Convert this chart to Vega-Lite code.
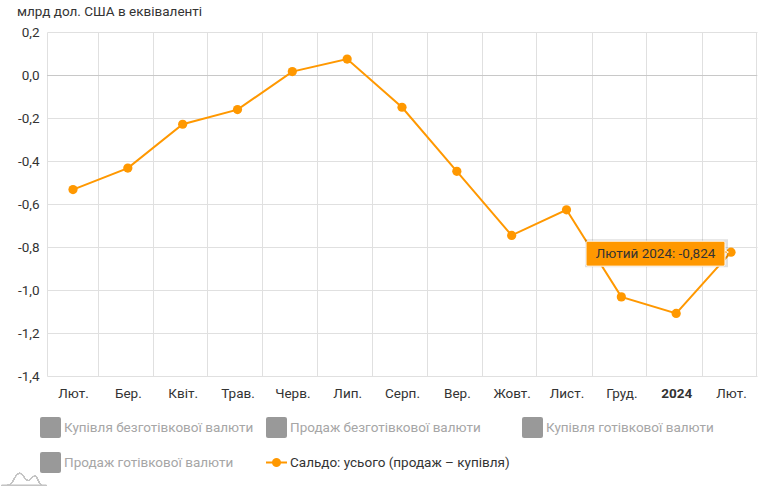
{
"$schema":"https://vega.github.io/schema/vega-lite/v6.json",
"width":710,"height":344,
"autosize":{"type":"none"},
"padding":{"left":47,"top":32,"right":11,"bottom":119},
"background":"white",
"config":{"font":"Roboto","view":{"stroke":null}},
"title":{"text":"млрд дол. США в еквіваленті","anchor":"start","frame":"group","orient":"top","dx":-30,"offset":7,"fontSize":13.5,"fontWeight":"normal","color":"#333333","font":"Roboto"},
"data":{"values":[
{"idx":0,"series":"Сальдо: усього (продаж – купівля)","value":-0.533},
{"idx":1,"series":"Сальдо: усього (продаж – купівля)","value":-0.433},
{"idx":2,"series":"Сальдо: усього (продаж – купівля)","value":-0.229},
{"idx":3,"series":"Сальдо: усього (продаж – купівля)","value":-0.161},
{"idx":4,"series":"Сальдо: усього (продаж – купівля)","value":0.016},
{"idx":5,"series":"Сальдо: усього (продаж – купівля)","value":0.074},
{"idx":6,"series":"Сальдо: усього (продаж – купівля)","value":-0.15},
{"idx":7,"series":"Сальдо: усього (продаж – купівля)","value":-0.448},
{"idx":8,"series":"Сальдо: усього (продаж – купівля)","value":-0.746},
{"idx":9,"series":"Сальдо: усього (продаж – купівля)","value":-0.627},
{"idx":10,"series":"Сальдо: усього (продаж – купівля)","value":-1.032},
{"idx":11,"series":"Сальдо: усього (продаж – купівля)","value":-1.109},
{"idx":12,"series":"Сальдо: усього (продаж – купівля)","value":-0.824}
]},
"resolve":{"axis":{"x":"independent"}},
"layer":[
{"mark":{"type":"rule","color":"#c8c8c8","strokeWidth":1,"yOffset":0.5},
 "encoding":{"y":{"datum":0,"type":"quantitative","scale":{"domain":[-1.4,0.2],"nice":false},
   "axis":{"orient":"left","values":[-1.4,-1.2,-1,-0.8,-0.6,-0.4,-0.2,0,0.2],"grid":true,"gridColor":"#e0e0e0","gridWidth":1,"domain":false,"ticks":false,"title":null,"labelFontSize":13.5,"labelColor":"#333333","labelPadding":8,"labelFont":"Roboto",
   "labelExpr":"replace(replace(format(datum.value,'.1f'),'.',','),'−','-')"}}}},
{"mark":{"type":"line","color":"#ff9800","strokeWidth":2},
 "encoding":{
  "x":{"field":"idx","type":"quantitative","scale":{"domain":[-0.474,12.474],"nice":false,"zero":false},
   "axis":{"orient":"bottom","values":[-0.474,0.456,1.462,2.447,3.45,4.45,5.45,6.45,7.45,8.45,9.456,10.456,11.47,12.462],"grid":true,"gridColor":"#e0e0e0","gridWidth":1,"labels":false,"ticks":false,"domain":false,"title":null}},
  "y":{"field":"value","type":"quantitative"}}},
{"mark":{"type":"point","filled":true,"color":"#ff9800","opacity":1,"size":85,"shape":"circle"},
 "encoding":{
  "x":{"field":"idx","type":"quantitative",
   "axis":{"orient":"bottom","values":[0,1,2,3,4,5,6,7,8,9,10,11,12],"grid":false,"ticks":false,"domain":false,"title":null,"labelFontSize":13.5,"labelColor":"#333333","labelPadding":10,"labelFont":"Roboto","labelOverlap":false,
    "labelFontWeight":{"condition":{"test":"datum.value==11","value":"bold"},"value":"normal"},
    "labelExpr":"['Лют.','Бер.','Квіт.','Трав.','Черв.','Лип.','Серп.','Вер.','Жовт.','Лист.','Груд.','2024','Лют.'][datum.value]"}},
  "y":{"field":"value","type":"quantitative"}}},
{"mark":{"type":"point","filled":true,"opacity":0,"size":10},
 "encoding":{
  "x":{"field":"idx","type":"quantitative","axis":null},
  "y":{"field":"value","type":"quantitative"},
  "color":{"field":"series","type":"nominal",
   "scale":{"domain":["Купівля безготівкової валюти","Продаж безготівкової валюти","Купівля готівкової валюти","Продаж готівкової валюти","Сальдо: усього (продаж – купівля)"],"range":["#999999","#999999","#999999","#999999","#ff9800"]},
   "legend":{"orient":"none","legendX":-7,"legendY":385,"direction":"horizontal","columns":3,"title":null,"symbolSize":441,"symbolOpacity":1,"labelFontSize":13.5,"labelLimit":400,"labelOffset":3,"rowPadding":14,"columnPadding":12,"labelFont":"Roboto","symbolStrokeWidth":0,
    "labelColor":{"expr":"indexof(datum.value,'Сальдо')==0?'#333333':'#a6a6a6'"}}},
  "shape":{"field":"series","type":"nominal",
   "scale":{"domain":["Купівля безготівкової валюти","Продаж безготівкової валюти","Купівля готівкової валюти","Продаж готівкової валюти","Сальдо: усього (продаж – купівля)"],
    "range":["M-0.8,-1 H0.8 Q1,-1 1,-0.8 V0.8 Q1,1 0.8,1 H-0.8 Q-1,1 -1,0.8 V-0.8 Q-1,-1 -0.8,-1 Z","M-0.8,-1 H0.8 Q1,-1 1,-0.8 V0.8 Q1,1 0.8,1 H-0.8 Q-1,1 -1,0.8 V-0.8 Q-1,-1 -0.8,-1 Z","M-0.8,-1 H0.8 Q1,-1 1,-0.8 V0.8 Q1,1 0.8,1 H-0.8 Q-1,1 -1,0.8 V-0.8 Q-1,-1 -0.8,-1 Z","M-0.8,-1 H0.8 Q1,-1 1,-0.8 V0.8 Q1,1 0.8,1 H-0.8 Q-1,1 -1,0.8 V-0.8 Q-1,-1 -0.8,-1 Z","M-1,-0.09 H-0.42 A0.43,0.43 0 0 1 0.42,-0.09 H1 V0.09 H0.42 A0.43,0.43 0 0 1 -0.42,0.09 H-1 Z"]},
   "legend":{"orient":"none","legendX":-7,"legendY":385,"direction":"horizontal","columns":3,"title":null,"symbolSize":441,"symbolOpacity":1,"labelFontSize":13.5,"labelLimit":400,"labelOffset":3,"rowPadding":14,"columnPadding":12,"labelFont":"Roboto","symbolStrokeWidth":0,
    "labelColor":{"expr":"indexof(datum.value,'Сальдо')==0?'#333333':'#a6a6a6'"}}}}},
{"transform":[{"filter":"datum.idx==12"}],
 "mark":{"type":"rect","color":"#000000","opacity":0.12,"xOffset":-146,"x2Offset":-3,"yOffset":-13,"y2Offset":15},
 "encoding":{"x":{"field":"idx","type":"quantitative","axis":null},"x2":{"field":"idx"},"y":{"field":"value","type":"quantitative"},"y2":{"field":"value"}}},
{"transform":[{"filter":"datum.idx==12"}],
 "mark":{"type":"point","shape":"triangle-right","filled":true,"color":"#ff9800","stroke":"#ffffff","strokeWidth":1,"opacity":1,"size":60,"xOffset":-6},
 "encoding":{"x":{"field":"idx","type":"quantitative","axis":null},"y":{"field":"value","type":"quantitative"}}},
{"transform":[{"filter":"datum.idx==12"}],
 "mark":{"type":"rect","color":"#ff9800","stroke":"#ffffff","strokeWidth":1,"cornerRadius":2,"xOffset":-145,"x2Offset":-6,"yOffset":-11,"y2Offset":14},
 "encoding":{"x":{"field":"idx","type":"quantitative","axis":null},"x2":{"field":"idx"},"y":{"field":"value","type":"quantitative"},"y2":{"field":"value"}}},
{"transform":[{"filter":"datum.idx==12"}],
 "mark":{"type":"text","font":"Roboto","fontSize":13.5,"color":"#333333","align":"center","baseline":"middle","xOffset":-75.5,"yOffset":1.5},
 "encoding":{"x":{"field":"idx","type":"quantitative","axis":null},"y":{"field":"value","type":"quantitative"},"text":{"value":"Лютий 2024: -0,824"}}},
{"mark":{"type":"point","filled":false,"stroke":"#c4c4c4","strokeWidth":1,"opacity":1,"size":2025,"xOffset":-23,"yOffset":100,
  "shape":"M-1,0.42 H1 M-0.75,0.42 C-0.45,0.4 -0.42,-0.12 -0.2,-0.12 C-0.02,-0.12 0.02,0.2 0.2,0.2 C0.3,0.2 0.35,0 0.48,0 C0.62,0 0.65,0.4 0.8,0.42"},
 "encoding":{"x":{"datum":-0.474,"type":"quantitative","axis":null},"y":{"datum":-1.4,"type":"quantitative"}}}
]
}
